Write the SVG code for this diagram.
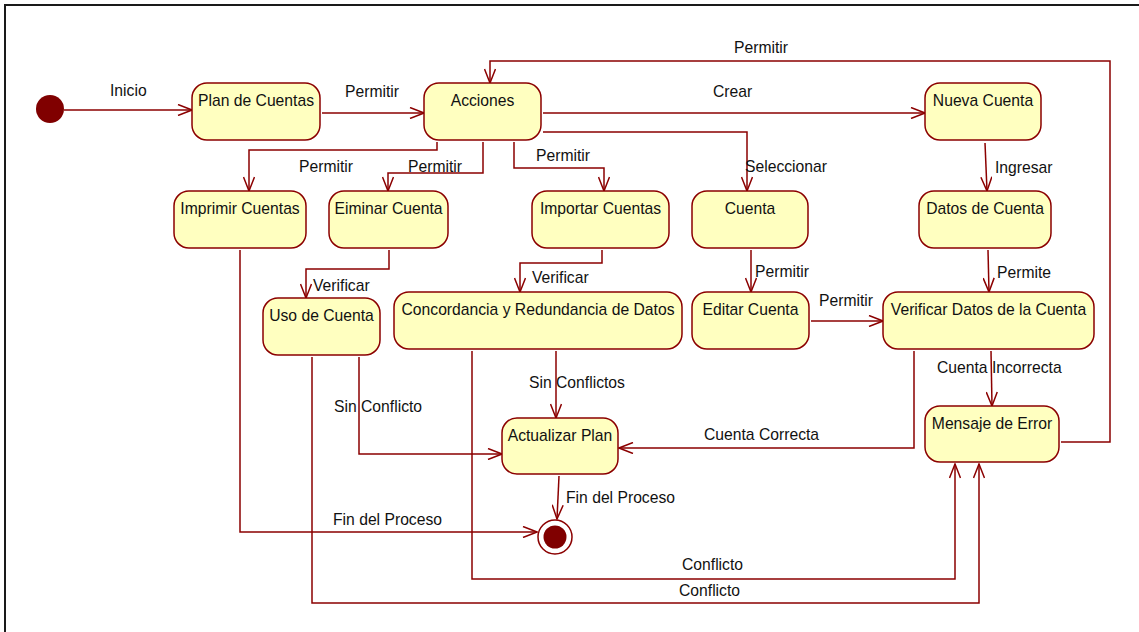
<svg xmlns="http://www.w3.org/2000/svg" width="1139" height="632" viewBox="0 0 1139 632">
<style>
.n{fill:#FFFFC0;stroke:#8B0000;stroke-width:1.5}
.t{font-family:"Liberation Sans",Arial,sans-serif;font-size:15.7px;fill:#111}
.c{text-anchor:middle}
.e{fill:none;stroke:#8B0000;stroke-width:1.5;marker-end:url(#a)}
</style>
<defs>
<marker id="a" viewBox="0 0 16 12" refX="15" refY="6" markerWidth="16" markerHeight="12" orient="auto" markerUnits="userSpaceOnUse">
<path d="M1,0.5 L15,6 L1,11.5" fill="none" stroke="#8B0000" stroke-width="1.5"/>
</marker>
</defs>
<rect width="1139" height="632" fill="#fff"/>
<path d="M5,640 L5,5 L1145,5" fill="none" stroke="#1a1a1a" stroke-width="2"/>

<g id="connectors">
<path class="e" d="M64,110 L192,110"/>
<path class="e" d="M322,113 L424,113"/>
<path class="e" d="M543,113 L925,113"/>
<path class="e" d="M543,132 L747,132 L747,191"/>
<path class="e" d="M514,142 L514,168 L604,168 L604,191"/>
<path class="e" d="M483,142 L483,173 L388,173 L388,191"/>
<path class="e" d="M437,142 L437,150 L249,150 L249,191"/>
<path class="e" d="M389,250 L389,269 L306,269 L306,298"/>
<path class="e" d="M602,250 L602,263 L520,263 L520,292"/>
<path class="e" d="M751,250 L751,292"/>
<path class="e" d="M985,143 L987,191"/>
<path class="e" d="M988,250 L989,292"/>
<path class="e" d="M811,321 L883,321"/>
<path class="e" d="M991,351 L992,406"/>
<path class="e" d="M914,351 L914,448 L619,448"/>
<path class="e" d="M1061,442 L1110,442 L1110,61 L490,61 L490,83"/>
<path class="e" d="M556,351 L556,418"/>
<path class="e" d="M359,357 L359,454 L502,454"/>
<path class="e" d="M240,250 L240,532 L537,532"/>
<path class="e" d="M559,476 L557,519"/>
<path class="e" d="M472,351 L472,579 L955,579 L955,464"/>
<path class="e" d="M312,357 L312,603 L979,603 L979,464"/>
</g>

<g id="labels" class="t">
<text x="110" y="96">Inicio</text>
<text x="345" y="97">Permitir</text>
<text x="713" y="97">Crear</text>
<text x="745" y="172">Seleccionar</text>
<text x="536" y="161">Permitir</text>
<text x="408" y="172">Permitir</text>
<text x="299" y="172">Permitir</text>
<text x="313" y="291">Verificar</text>
<text x="532" y="283">Verificar</text>
<text x="755" y="277">Permitir</text>
<text x="995" y="173">Ingresar</text>
<text x="997" y="278">Permite</text>
<text x="819" y="306">Permitir</text>
<text x="937" y="373">Cuenta Incorrecta</text>
<text x="704" y="440">Cuenta Correcta</text>
<text x="734" y="53">Permitir</text>
<text x="529" y="388">Sin Conflictos</text>
<text x="334" y="412">Sin Conflicto</text>
<text x="333" y="525">Fin del Proceso</text>
<text x="566" y="503">Fin del Proceso</text>
<text x="682" y="570">Conflicto</text>
<text x="679" y="596">Conflicto</text>
</g>

<g id="inicio"><circle cx="50" cy="109" r="14" fill="#800000"/></g>
<g id="fin"><circle cx="555" cy="537" r="17" fill="#fff" stroke="#8B0000" stroke-width="1.5"/><circle cx="555" cy="537" r="11.5" fill="#800000"/></g>

<g id="plan"><rect class="n" x="192" y="83" width="128" height="57" rx="15"/><text class="t c" x="256" y="106">Plan de Cuentas</text></g>
<g id="acciones"><rect class="n" x="424" y="83" width="117" height="57" rx="15"/><text class="t c" x="482.5" y="106">Acciones</text></g>
<g id="nueva"><rect class="n" x="925" y="83" width="116" height="57" rx="15"/><text class="t c" x="983" y="106">Nueva Cuenta</text></g>
<g id="imprimir"><rect class="n" x="174" y="191" width="132" height="57" rx="15"/><text class="t c" x="240" y="214">Imprimir Cuentas</text></g>
<g id="eliminar"><rect class="n" x="329" y="191" width="119" height="57" rx="15"/><text class="t c" x="388.5" y="214">Eiminar Cuenta</text></g>
<g id="importar"><rect class="n" x="532" y="191" width="137" height="57" rx="15"/><text class="t c" x="600.5" y="214">Importar Cuentas</text></g>
<g id="cuenta"><rect class="n" x="692" y="191" width="116" height="57" rx="15"/><text class="t c" x="750" y="214">Cuenta</text></g>
<g id="datos"><rect class="n" x="919" y="191" width="132" height="57" rx="15"/><text class="t c" x="985" y="214">Datos de Cuenta</text></g>
<g id="uso"><rect class="n" x="263" y="298" width="117" height="57" rx="15"/><text class="t c" x="321.5" y="321">Uso de Cuenta</text></g>
<g id="concordancia"><rect class="n" x="394" y="292" width="288" height="57" rx="15"/><text class="t c" x="538" y="315">Concordancia y Redundancia de Datos</text></g>
<g id="editar"><rect class="n" x="692" y="292" width="117" height="57" rx="15"/><text class="t c" x="750.5" y="315">Editar Cuenta</text></g>
<g id="verificar"><rect class="n" x="883" y="292" width="211" height="57" rx="15"/><text class="t c" x="988.5" y="315">Verificar Datos de la Cuenta</text></g>
<g id="actualizar"><rect class="n" x="502" y="418" width="116" height="56" rx="15"/><text class="t c" x="560" y="441">Actualizar Plan</text></g>
<g id="mensaje"><rect class="n" x="925" y="406" width="134" height="56" rx="15"/><text class="t c" x="992" y="429">Mensaje de Error</text></g>
</svg>
